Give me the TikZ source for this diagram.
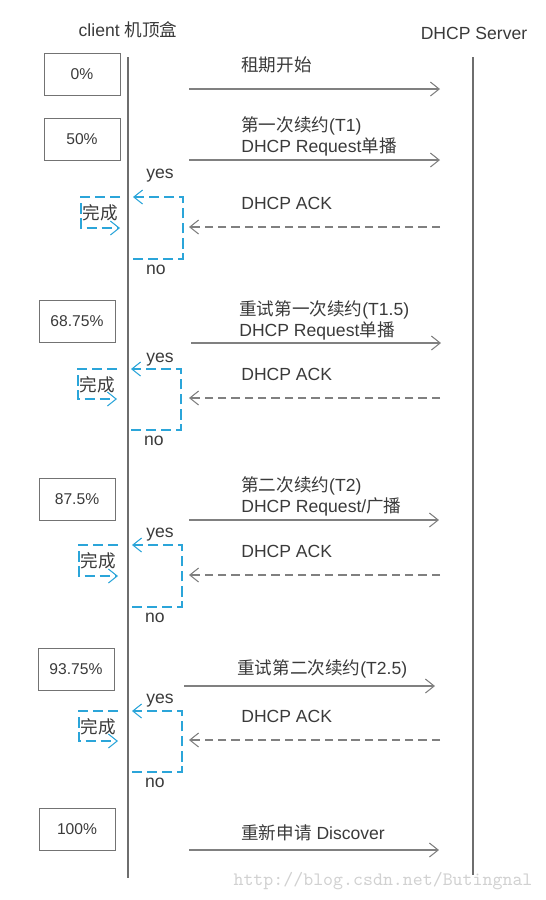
\documentclass[tikz,border=0pt]{standalone}
\usepackage{fontspec}
\setmainfont{Liberation Sans}
\newfontfamily\cjk{Noto Sans CJK SC}
\usetikzlibrary{arrows.meta}
\definecolor{linegray}{HTML}{808080}
\definecolor{lifegray}{HTML}{6E6E6E}
\definecolor{textgray}{HTML}{3A3A3A}
\definecolor{loopblue}{HTML}{2BA5D9}
\newcommand{\zh}[1]{{\cjk #1}}

\begin{document}
\begin{tikzpicture}[x=0.02cm,y=-0.02cm,
    font=\fontsize{10}{12}\selectfont,text=textgray,
    tip/.style={-{Straight Barb[length=5pt,width=8pt]}},
    msg/.style={draw=linegray,line width=0.6pt,tip},
    ack/.style={msg,dash pattern=on 4.8pt off 2.8pt},
    loopline/.style={draw=loopblue,line width=0.6pt,dash pattern=on 5.8pt off 2.8pt},
    pct/.style={draw=black!55,line width=0.5pt,minimum width=1.52cm,minimum height=0.84cm,
        inner sep=0pt,font=\fontsize{8.9}{10}\selectfont},
    label/.style={anchor=west,align=left,inner sep=0pt}]
    \useasboundingbox (0,0) rectangle (545,900);

    % the two parties
    \node (client) at (128,30) {client \zh{机顶盒}};
    \node (server) at (474,33) {DHCP Server};
    \coordinate (ctop) at (128,57);
    \coordinate (cbot) at (128,878);
    \coordinate (stop) at (473,57);
    \coordinate (sbot) at (473,875);
    \draw[lifegray,line width=0.7pt] (ctop)--(cbot);
    \draw[lifegray,line width=0.7pt] (stop)--(sbot);

    % lease time marks
    \node[pct] (p0) at (82,74) {0\%};
    \node[pct] (p50) at (82,139) {50\%};
    \node[pct] (p68) at (77,321) {68.75\%};
    \node[pct] (p87) at (77,499) {87.5\%};
    \node[pct] (p93) at (76,669) {93.75\%};
    \node[pct] (p100) at (77,829) {100\%};

    % requests from the client
    \coordinate (r0a) at (189,89);  \coordinate (r0b) at (440,89);
    \coordinate (r1a) at (189,160); \coordinate (r1b) at (440,160);
    \coordinate (r2a) at (191,343); \coordinate (r2b) at (441,343);
    \coordinate (r3a) at (189,520); \coordinate (r3b) at (439,520);
    \coordinate (r4a) at (184,686); \coordinate (r4b) at (435,686);
    \coordinate (r5a) at (189,850); \coordinate (r5b) at (439,850);
    \foreach \i in {0,...,5}
        \draw[msg] (r\i a)--(r\i b);

    \node[label] (start) at (241,65) {\zh{租期开始}};
    \node[label] (t1) at (241,136) {\zh{第一次续约}(T1)\\DHCP Request\zh{单播}};
    \node[label] (t15) at (239,320) {\zh{重试第一次续约}(T1.5)\\DHCP Request\zh{单播}};
    \node[label] (t2) at (241,496) {\zh{第二次续约}(T2)\\DHCP Request/\zh{广播}};
    \node[label] (t25) at (237,669) {\zh{重试第二次续约}(T2.5)};
    \node[label] (disc) at (241,833) {\zh{重新申请} Discover};

    % ack and yes/no branches
    \foreach \i/\yt/\yb/\vx/\l/\ys/\ya in {1/197/259/183/81/173/227,
            2/369/430/181/78/357/398, 3/545/607/182/79/532/575, 4/711/772/182/79/698/740}{
        \coordinate (ka\i) at (440,\ya);
        \coordinate (kb\i) at (189,\ya);
        \draw[ack] (ka\i)--(kb\i);
        \node[label] (ack\i) at (241,\ya-24) {DHCP ACK};

        \coordinate (up\i) at (\vx,\yt);
        \coordinate (dn\i) at (\vx,\yb);
        \draw[loopline,tip] (\vx-50,\yb)--(dn\i)--(up\i)--(\vx-50,\yt);
        \draw[loopline,tip] (\l+39,\yt)--(\l,\yt)--(\l,\yb-31)--(\l+39,\yb-31);
        \node (yes\i) at (160,\ys+3) {yes};
        \node (no\i) at (\vx-27,\yb+11) {no};
        \node (done\i) at (\l+19,\yt+15.5) {\zh{完成}};
    }

    \node[text=black!18,font=\ttfamily\fontsize{10.8}{12}\selectfont] (mark) at (383,881)
        {http://blog.csdn.net/Butingnal};
\end{tikzpicture}
\end{document}
